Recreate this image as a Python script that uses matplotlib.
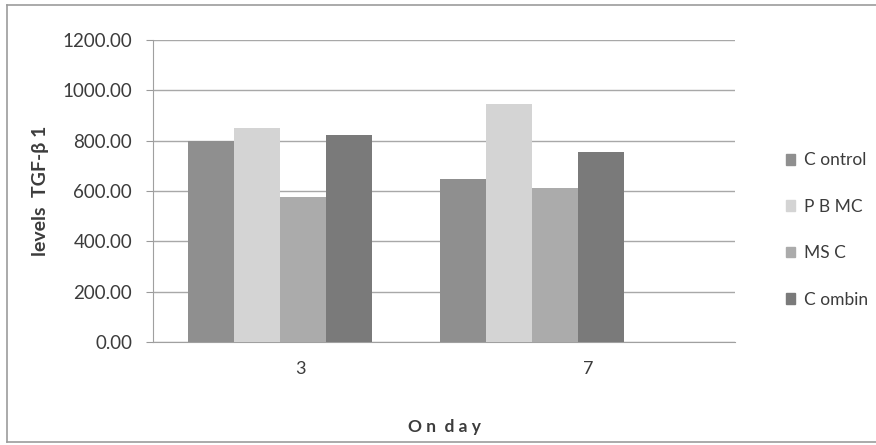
import numpy as np
import matplotlib.pyplot as plt
from matplotlib.lines import Line2D

# --- data ---
days = ["3", "7"]
series = ["C ontrol", "P B MC", "MS C", "C ombin"]
control = [800.0, 648.0]
pbmc = [850.0, 945.0]
msc = [577.0, 610.0]
combin = [822.0, 756.0]
values = [control, pbmc, msc, combin]
colors = ["#8f8f8f", "#d4d4d4", "#ababab", "#7a7a7a"]

FONT = "Lato"
TXT = "#3c3c3c"

fig = plt.figure(figsize=(8.76, 4.45), dpi=100)
ax = fig.add_axes([153 / 876, 1 - 342 / 445, (735 - 153) / 876, (342 - 40) / 445])

x = np.arange(len(days))
w = 0.1825
for k, (name, vals, c) in enumerate(zip(series, values, colors)):
    ax.bar(x + (k - 1.5) * w, vals, width=w, color=c, label=name, zorder=3)

ax.set_xlim(-0.504, 1.806)
ax.set_ylim(0, 1200)
ax.set_yticks(np.arange(0, 1201, 200))
ax.set_yticklabels([f"{v:.2f}" for v in np.arange(0, 1201, 200)],
                   fontsize=13.5, color=TXT, family=FONT)
ax.set_xticks([0.08, 1.225])
ax.set_xticklabels(days, fontsize=13, color=TXT, family=FONT)
ax.tick_params(axis="x", length=0, pad=14)
ax.tick_params(axis="y", length=5, color="#9a9a9a", pad=10)

ax.grid(axis="y", color="#a8a8a8", linewidth=1.0, zorder=0)
for s in ["top", "right"]:
    ax.spines[s].set_visible(False)
ax.spines["left"].set_color("#a0a0a0")
ax.spines["bottom"].set_color("#a0a0a0")

ax.set_ylabel("levels  TGF-β 1", fontsize=14, fontweight="bold", color=TXT,
              family=FONT, labelpad=10)
fig.text(444 / 876, 1 - 427 / 445, "O n  d a y", ha="center", va="center",
         fontsize=12.5, fontweight="bold", color=TXT, family=FONT)

# legend on the right
handles = [plt.Rectangle((0, 0), 1, 1, color=c) for c in colors]
leg = fig.legend(handles, series, loc="center left",
                 bbox_to_anchor=(770 / 876, 1 - 230 / 445), frameon=False,
                 handlelength=0.55, handleheight=0.55, handletextpad=0.5,
                 labelspacing=1.75, prop={"family": FONT, "size": 12.5})
for t in leg.get_texts():
    t.set_color(TXT)

# outer chart border
bc = "#9c9c9c"
fig.add_artist(Line2D([7 / 876, 7 / 876], [1 - 442 / 445, 1 - 5 / 445], color=bc, lw=1.2))
fig.add_artist(Line2D([7 / 876, 1.0], [1 - 5 / 445, 1 - 5 / 445], color=bc, lw=1.2))
fig.add_artist(Line2D([7 / 876, 1.0], [1 - 442 / 445, 1 - 442 / 445], color=bc, lw=1.2))

fig.savefig("out.png", dpi=100)
